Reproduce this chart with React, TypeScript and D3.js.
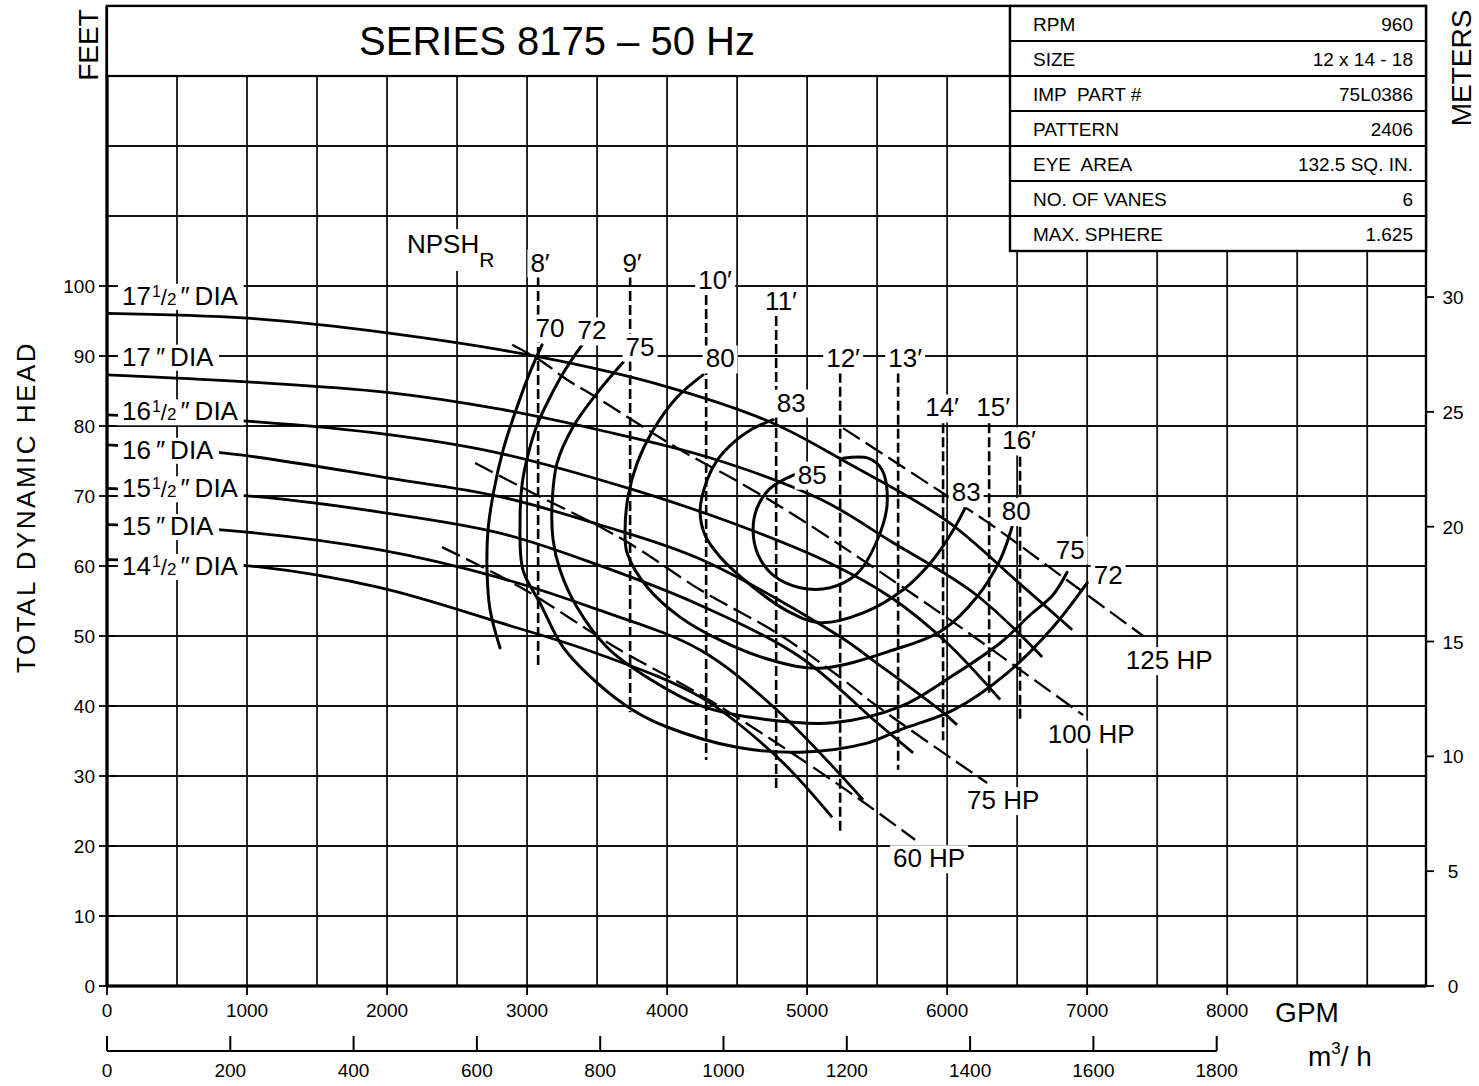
import React, { useEffect, useRef } from 'react';
import * as d3 from 'd3';

type Pt = [number, number]; // [GPM, feet]

const FONT = '"Liberation Sans", Arial, Helvetica, sans-serif';
const GPM_MAX = 9420;
const FT_MAX = 140;
const GPM_PER_M3H = 4.4029;
const FT_PER_M = 3.2808;

// ── Head / capacity curves, one per impeller diameter ────────────────────────
const HEAD_175: Pt[] = [[0, 96.1], [1000, 95.4], [2000, 93.3], [3079, 89.9], [4000, 85.6], [4757, 80.4], [5300, 74.6], [6000, 66.4], [6500, 57.8], [6893, 50.9]];
const HEAD_170: Pt[] = [[0, 87.3], [1000, 86.3], [2000, 84.8], [2807, 82.4], [3500, 79.5], [4300, 75.5], [5100, 69.5], [5600, 63.5], [6200, 56], [6679, 47.0]];
const HEAD_165: Pt[] = [[0, 81.6], [1071, 80.6], [2000, 78.8], [2807, 76.1], [3757, 70.9], [4471, 66.1], [5164, 60.4], [5600, 55.5], [6000, 49], [6379, 40.9]];
const HEAD_160: Pt[] = [[0, 77.3], [857, 76.1], [2000, 72.6], [2807, 69.9], [3500, 66], [4236, 61], [5236, 49.9], [5500, 46.1], [5950, 39.4], [6071, 37.3]];
const HEAD_155: Pt[] = [[0, 71.1], [1071, 69.9], [1950, 67.7], [2807, 64.7], [3500, 60.2], [4236, 54.4], [4950, 47], [5500, 37.6], [5757, 33.3]];
const HEAD_150: Pt[] = [[0, 65.9], [857, 65.1], [1950, 62.3], [2807, 58.3], [3500, 53.8], [4236, 48], [4786, 39.4], [5400, 26.6]];
const HEAD_145: Pt[] = [[0, 60.9], [1071, 59.9], [1950, 56.9], [2807, 51.9], [3500, 47.5], [4236, 41.3], [4786, 32.7], [5179, 24.1]];

const HEAD_CURVES = [HEAD_175, HEAD_170, HEAD_165, HEAD_160, HEAD_155, HEAD_150, HEAD_145];
const DIA_WHOLE = ['17', '17', '16', '16', '15', '15', '14'];
const DIA_HALF = [true, false, true, false, true, false, true];
const DIA_LABEL_FT = [98.6, 89.9, 82.1, 76.6, 71.1, 65.7, 60.0];
const DIA_LABEL_GPM = 107;

// ── Efficiency contours (%) ──────────────────────────────────────────────────
const EFF_70: Pt[] = [[3107, 91.6], [3021, 87.7], [2921, 82.3], [2829, 76.6], [2764, 70.9], [2721, 65.1], [2714, 59.4], [2736, 53.7], [2807, 48.3]];
const EFF_72: Pt[] = [[3393, 91.6], [3271, 88.0], [3164, 84.1], [3071, 80.1], [3007, 75.9], [2964, 71.6], [2950, 66.6], [2971, 59.4], [3093, 54.7], [3257, 48.4], [3500, 43.3], [3757, 39.4], [4000, 37.0], [4500, 34.1], [4950, 33.4], [5429, 34.7], [5664, 36.6], [6043, 39.4], [6429, 44.7], [6757, 51.3], [7000, 57.6]];
const EFF_75: Pt[] = [[3686, 89.1], [3500, 84.7], [3329, 79.9], [3214, 74.7], [3179, 69.0], [3186, 63.7], [3236, 59.4], [3357, 54.1], [3571, 48.4], [3857, 44.1], [4257, 39.9], [4736, 38.0], [5186, 37.6], [5664, 39.9], [6021, 44.1], [6379, 49.0], [6593, 53.0], [6757, 55.9], [6857, 59.1]];
const EFF_80: Pt[] = [[4257, 87.3], [4071, 84.1], [3900, 79.4], [3786, 74.7], [3721, 69.9], [3700, 65.1], [3714, 61.9], [3857, 57.0], [4093, 52.7], [4379, 49.4], [4736, 46.6], [5093, 45.4], [5614, 48.0], [5971, 50.9], [6214, 55.6], [6379, 60.9], [6464, 65.6]];
const EFF_83: Pt[] = [[4757, 80.9], [4593, 79.4], [4471, 77.6], [4357, 75.1], [4286, 72.3], [4236, 68.0], [4271, 64.4], [4379, 61.3], [4614, 57.0], [4857, 53.6], [5093, 51.9], [5400, 53.3], [5686, 56.6], [5900, 60.9], [6043, 65.1], [6129, 68.3]];
const EFF_85: Pt[] = [[4914, 73.1], [4736, 71.1], [4643, 68.3], [4614, 65.1], [4650, 61.6], [4757, 58.7], [4950, 56.9], [5164, 56.9], [5357, 58.9], [5486, 63.0], [5571, 68.7], [5536, 73.7], [5436, 75.4], [5257, 75.4]];
const EFF_CURVES = [EFF_70, EFF_72, EFF_75, EFF_80, EFF_83, EFF_85];

const EFF_LABELS = ['70', '72', '75', '80', '83', '85', '83', '80', '75', '72'];
const EFF_LABEL_POS: Pt[] = [[3164, 94.1], [3464, 93.7], [3807, 91.4], [4379, 89.7], [4886, 83.4], [5036, 73.1], [6136, 70.6], [6493, 67.9], [6879, 62.4], [7150, 58.7]];

// ── Brake horsepower lines ───────────────────────────────────────────────────
const HP_125: Pt[] = [[5257, 79.7], [5971, 70.4], [6286, 66.3], [6807, 58.7], [7400, 50.0]];
const HP_100: Pt[] = [[2893, 91.6], [3093, 89.4], [3286, 86.6], [3471, 84.4], [4093, 76.6], [4521, 71.9], [4929, 67.0], [5429, 60.4], [6021, 52.3], [6971, 38.7]];
const HP_75: Pt[] = [[2629, 74.7], [3043, 70.4], [3521, 65.6], [3807, 62.3], [4236, 56.6], [4786, 50.4], [5236, 44.1], [5471, 40.4], [6286, 29.0]];
const HP_60: Pt[] = [[2393, 62.7], [2950, 57.0], [3664, 48.0], [4214, 41.9], [4807, 34.4], [5379, 26.6], [5771, 20.9]];
const HP_LINES = [HP_125, HP_100, HP_75, HP_60];
const HP_LABELS = ['125 HP', '100 HP', '75 HP', '60 HP'];
const HP_LABEL_POS: Pt[] = [[7586, 46.6], [7029, 36.1], [6400, 26.6], [5871, 18.3]];

// ── NPSH required (dashed verticals) ─────────────────────────────────────────
const NPSH_LABELS = ['8′', '9′', '10′', '11′', '12′', '13′', '14′', '15′', '16′'];
const NPSH_GPM = [3079, 3736, 4279, 4779, 5236, 5650, 5971, 6300, 6521];
const NPSH_TOP = [101.3, 101.3, 98.7, 95.7, 87.6, 87.6, 80.4, 80.4, 75.6];
const NPSH_BOTTOM = [45.4, 39.1, 32.3, 28.0, 21.6, 30.9, 35.1, 41.9, 38.0];
const NPSH_LABEL_POS: Pt[] = [[3093, 103.4], [3750, 103.4], [4343, 100.9], [4814, 97.9], [5257, 89.7], [5700, 89.7], [5964, 82.7], [6329, 82.7], [6514, 78.0]];

// ── Axes ─────────────────────────────────────────────────────────────────────
const FT_TICKS = d3.range(0, 101, 10);
const M_TICKS = d3.range(0, 31, 5);
const GPM_TICKS = d3.range(0, 8001, 1000);
const M3H_TICKS = d3.range(0, 1801, 200);

// ── Data block ───────────────────────────────────────────────────────────────
const TABLE_KEYS = ['RPM', 'SIZE', 'IMP  PART #', 'PATTERN', 'EYE  AREA', 'NO. OF VANES', 'MAX. SPHERE'];
const TABLE_VALUES = ['960', '12 x 14 - 18', '75L0386', '2406', '132.5 SQ. IN.', '6', '1.625'];

type G = d3.Selection<SVGGElement, unknown, null, undefined>;

// text with a white box behind it, so it cuts the grid and curves like the print
function boxedText(g: G, txt: string, cx: number, cy: number, size = 26, anchor = 'middle', pad = 3) {
  const grp = g.append('g');
  const rect = grp.append('rect').attr('fill', '#fff');
  const t = grp.append('text')
    .attr('x', cx).attr('y', cy + size * 0.36)
    .attr('text-anchor', anchor)
    .attr('font-size', size)
    .text(txt);
  const b = (t.node() as SVGTextElement).getBBox();
  rect.attr('x', b.x - pad).attr('y', b.y + 2).attr('width', b.width + pad * 2).attr('height', b.height - 2);
  return t;
}

export default function App() {
  const svgRef = useRef<SVGSVGElement>(null);

  useEffect(() => {
    document.body.style.margin = '0';
    const svg = d3.select(svgRef.current);
    svg.selectAll('*').remove();
    const root = svg.append('g').attr('font-family', FONT).attr('fill', '#000') as unknown as G;

    const x = d3.scaleLinear().domain([0, GPM_MAX]).range([107, 1426]);
    const y = d3.scaleLinear().domain([0, FT_MAX]).range([986, 6]);
    const yM = d3.scaleLinear().domain([0, FT_MAX / FT_PER_M]).range([986, 6]);
    const xM = d3.scaleLinear().domain([0, GPM_MAX / GPM_PER_M3H]).range([107, 1426]);

    const tableLeft = 1010;
    const rowH = 35;
    const tableBottom = 6 + rowH * TABLE_KEYS.length;

    // grid
    const grid = root.append('g').attr('stroke', '#111').attr('stroke-width', 1.8);
    d3.range(500, GPM_MAX, 500).forEach(q => {
      const px = x(q);
      grid.append('line')
        .attr('x1', px).attr('x2', px)
        .attr('y1', px > tableLeft ? tableBottom : y(130)).attr('y2', y(0));
    });
    d3.range(10, 131, 10).forEach(f => {
      grid.append('line').attr('x1', x(0)).attr('x2', x(GPM_MAX)).attr('y1', y(f)).attr('y2', y(f));
    });

    // axis ticks
    const ticks = root.append('g').attr('stroke', '#000').attr('stroke-width', 1.8);
    FT_TICKS.forEach(f => ticks.append('line').attr('x1', 99).attr('x2', 115).attr('y1', y(f)).attr('y2', y(f)));
    M_TICKS.forEach(m => ticks.append('line').attr('x1', 1426).attr('x2', 1434).attr('y1', yM(m)).attr('y2', yM(m)));
    GPM_TICKS.forEach(q => ticks.append('line').attr('x1', x(q)).attr('x2', x(q)).attr('y1', 986).attr('y2', 995));

    const line = d3.line<Pt>().x(d => x(d[0])).y(d => y(d[1])).curve(d3.curveCatmullRom.alpha(0.5));

    // NPSH verticals
    NPSH_GPM.forEach((q, i) => {
      root.append('line')
        .attr('x1', x(q)).attr('x2', x(q))
        .attr('y1', y(NPSH_TOP[i])).attr('y2', y(NPSH_BOTTOM[i]))
        .attr('stroke', '#000').attr('stroke-width', 2.6)
        .attr('stroke-dasharray', '10,4');
    });

    // HP lines
    HP_LINES.forEach(pts => {
      root.append('path').datum(pts).attr('d', line)
        .attr('fill', 'none').attr('stroke', '#000').attr('stroke-width', 2.3)
        .attr('stroke-dasharray', '20,7');
    });

    // head curves
    HEAD_CURVES.forEach(pts => {
      root.append('path').datum(pts).attr('d', line)
        .attr('fill', 'none').attr('stroke', '#000').attr('stroke-width', 2.8);
    });

    // efficiency contours
    EFF_CURVES.forEach(pts => {
      root.append('path').datum(pts).attr('d', line)
        .attr('fill', 'none').attr('stroke', '#000').attr('stroke-width', 3)
        .attr('stroke-linecap', 'round');
    });

    // frame
    root.append('rect')
      .attr('x', x(0)).attr('y', y(FT_MAX))
      .attr('width', x(GPM_MAX) - x(0)).attr('height', y(0) - y(FT_MAX))
      .attr('fill', 'none').attr('stroke', '#000').attr('stroke-width', 2.4);
    root.append('line').attr('x1', x(0)).attr('x2', x(0)).attr('y1', y(FT_MAX)).attr('y2', y(0))
      .attr('stroke', '#000').attr('stroke-width', 3.2);
    root.append('line').attr('x1', x(0) - 1).attr('x2', x(GPM_MAX)).attr('y1', y(0)).attr('y2', y(0))
      .attr('stroke', '#000').attr('stroke-width', 3);

    // labels on the plot
    const labels = root.append('g');
    DIA_WHOLE.forEach((whole, i) => {
      const grp = labels.append('g');
      const rect = grp.append('rect').attr('fill', '#fff');
      const t = grp.append('text')
        .attr('x', x(DIA_LABEL_GPM)).attr('y', y(DIA_LABEL_FT[i]) + 9)
        .attr('font-size', 26);
      t.append('tspan').text(whole);
      if (DIA_HALF[i]) {
        t.append('tspan').attr('font-size', 16).attr('dx', 1).attr('dy', -8).text('1');
        t.append('tspan').attr('font-size', 22).attr('dy', 8).text('/');
        t.append('tspan').attr('font-size', 17).text('2');
        t.append('tspan').attr('dx', 4).text('″');
      } else {
        t.append('tspan').attr('dx', 5).text('″');
      }
      t.append('tspan').attr('dx', 5).text('DIA');
      const b = (t.node() as SVGTextElement).getBBox();
      rect.attr('x', b.x - 4).attr('y', b.y + 3).attr('width', b.width + 9).attr('height', b.height - 4);
    });

    EFF_LABELS.forEach((s, i) => boxedText(labels, s, x(EFF_LABEL_POS[i][0]), y(EFF_LABEL_POS[i][1]), 26));
    NPSH_LABELS.forEach((s, i) => boxedText(labels, s, x(NPSH_LABEL_POS[i][0]), y(NPSH_LABEL_POS[i][1]), 26));
    HP_LABELS.forEach((s, i) => boxedText(labels, s, x(HP_LABEL_POS[i][0]), y(HP_LABEL_POS[i][1]), 26));

    // NPSH_R caption
    {
      const grp = labels.append('g');
      const rect = grp.append('rect').attr('fill', '#fff');
      const t = grp.append('text').attr('x', 407).attr('y', 253).attr('font-size', 26);
      t.append('tspan').text('NPSH');
      t.append('tspan').attr('font-size', 21).attr('dy', 14).text('R');
      const b = (t.node() as SVGTextElement).getBBox();
      rect.attr('x', b.x - 4).attr('y', b.y).attr('width', b.width + 8).attr('height', b.height);
    }

    // title block
    root.append('rect').attr('x', x(0)).attr('y', y(FT_MAX)).attr('width', tableLeft - x(0)).attr('height', y(130) - y(FT_MAX))
      .attr('fill', '#fff').attr('stroke', '#000').attr('stroke-width', 2.2);
    root.append('text').attr('x', 557).attr('y', 55).attr('text-anchor', 'middle')
      .attr('font-size', 40).text('SERIES 8175 – 50 Hz');

    // data table
    const table = root.append('g');
    table.append('rect').attr('x', tableLeft).attr('y', 6).attr('width', 1426 - tableLeft).attr('height', tableBottom - 6)
      .attr('fill', '#fff').attr('stroke', '#000').attr('stroke-width', 2.4);
    TABLE_KEYS.forEach((k, i) => {
      const top = 6 + i * rowH;
      if (i > 0) {
        table.append('line').attr('x1', tableLeft).attr('x2', 1426).attr('y1', top).attr('y2', top)
          .attr('stroke', '#000').attr('stroke-width', 1.8);
      }
      table.append('text').attr('x', 1033).attr('y', top + 25).attr('font-size', 19)
        .style('white-space', 'pre').text(k);
      table.append('text').attr('x', 1413).attr('y', top + 25).attr('font-size', 19)
        .attr('text-anchor', 'end').text(TABLE_VALUES[i]);
    });

    // tick labels
    const tl = root.append('g').attr('font-size', 19);
    FT_TICKS.forEach(f => tl.append('text').attr('x', 95).attr('y', y(f) + 7).attr('text-anchor', 'end').text(f));
    M_TICKS.forEach(m => tl.append('text').attr('x', 1453).attr('y', yM(m) + 7).attr('text-anchor', 'middle').text(m));
    GPM_TICKS.forEach(q => tl.append('text').attr('x', x(q)).attr('y', 1017).attr('text-anchor', 'middle').text(q));

    // m3/h scale
    const mAxis = root.append('g').attr('stroke', '#000').attr('stroke-width', 2);
    mAxis.append('line').attr('x1', xM(0)).attr('x2', xM(1800)).attr('y1', 1051).attr('y2', 1051);
    M3H_TICKS.forEach(v => mAxis.append('line').attr('x1', xM(v)).attr('x2', xM(v)).attr('y1', 1036).attr('y2', 1051));
    M3H_TICKS.forEach(v => tl.append('text').attr('x', xM(v)).attr('y', 1077).attr('text-anchor', 'middle').text(v));

    // axis titles
    root.append('text').attr('x', 1307).attr('y', 1022).attr('text-anchor', 'middle').attr('font-size', 28).text('GPM');
    {
      const t = root.append('text').attr('x', 1308).attr('y', 1066).attr('font-size', 28);
      t.append('tspan').text('m');
      t.append('tspan').attr('font-size', 17).attr('dy', -12).text('3');
      t.append('tspan').attr('dy', 12).text('/ h');
    }
    root.append('text').attr('transform', 'translate(98,45) rotate(-90)').attr('text-anchor', 'middle')
      .attr('font-size', 28).text('FEET');
    root.append('text').attr('transform', 'translate(1471,68) rotate(-90)').attr('text-anchor', 'middle')
      .attr('font-size', 28).text('METERS');
    root.append('text').attr('transform', 'translate(35,507) rotate(-90)').attr('text-anchor', 'middle')
      .attr('font-size', 26).attr('letter-spacing', 2.5).text('TOTAL DYNAMIC HEAD');
  }, []);

  return (
    <svg
      ref={svgRef}
      width={1479}
      height={1086}
      style={{ display: 'block', background: '#fff' }}
    />
  );
}
